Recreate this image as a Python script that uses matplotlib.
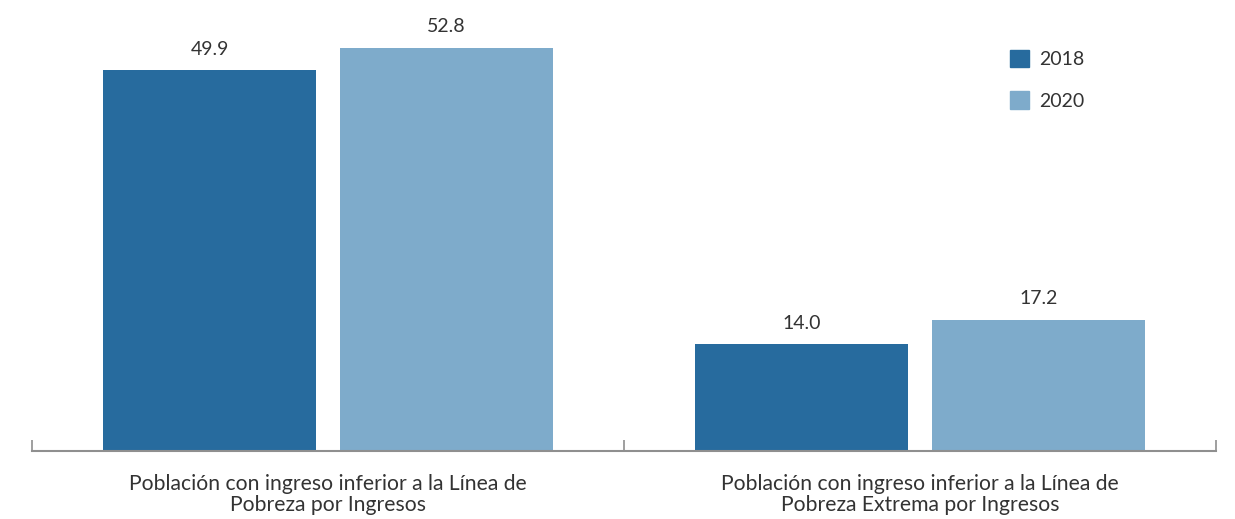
import numpy as np
import matplotlib.pyplot as plt
from matplotlib.patches import Patch

#data
categories = ['Población con ingreso inferior a la Línea de\nPobreza por Ingresos',
              'Población con ingreso inferior a la Línea de\nPobreza Extrema por Ingresos']
years = ['2018', '2020']
vals_2018 = [49.9, 14.0]
vals_2020 = [52.8, 17.2]

c_2018 = '#276b9e'
c_2020 = '#7eabcb'
txt = '#333333'
axc = '#8f8f8f'

plt.rcParams['font.family'] = ['Lato', 'DejaVu Sans']

fig = plt.figure(figsize=(12.35, 5.19), dpi=100)
ax = fig.add_axes([32/1235, 68/519, 1184/1235, 451/519])

x = np.arange(len(categories))
w = 0.361
off = 0.2
b1 = ax.bar(x - off, vals_2018, w, color=c_2018)
b2 = ax.bar(x + off, vals_2020, w, color=c_2020)

#value labels
for bars, vals in [(b1, vals_2018), (b2, vals_2020)]:
    for r, v in zip(bars, vals):
        ax.annotate(f'{v:.1f}', (r.get_x() + r.get_width()/2, v),
                    xytext=(0, 9), textcoords='offset points',
                    ha='center', va='bottom', fontsize=14, color=txt)

ax.set_xlim(-0.5, 1.5)
ax.set_ylim(0, 59.07)

#axis styling
for s in ['top', 'right', 'left']:
    ax.spines[s].set_visible(False)
ax.spines['bottom'].set_color(axc)
ax.spines['bottom'].set_linewidth(1.5)
ax.set_yticks([])
ax.set_xticks([-0.5, 0.5, 1.5])
ax.set_xticklabels([])
ax.tick_params(axis='x', which='major', direction='in', length=8, width=1.2, color=axc)
ax.set_xticks(x, minor=True)
ax.set_xticklabels(categories, minor=True, fontsize=15.2, color=txt, linespacing=1.08)
ax.tick_params(axis='x', which='minor', length=0, pad=16.5)

#legend
handles = [Patch(color=c_2018, label=years[0]), Patch(color=c_2020, label=years[1])]
ax.legend(handles=handles, loc='upper left', bbox_to_anchor=(0.826, 0.89), frameon=False,
          fontsize=14, handlelength=1.0, handleheight=1.0, handletextpad=0.5,
          labelspacing=1.2, borderpad=0, borderaxespad=0, labelcolor=txt)

fig.savefig('out.png', dpi=100)
